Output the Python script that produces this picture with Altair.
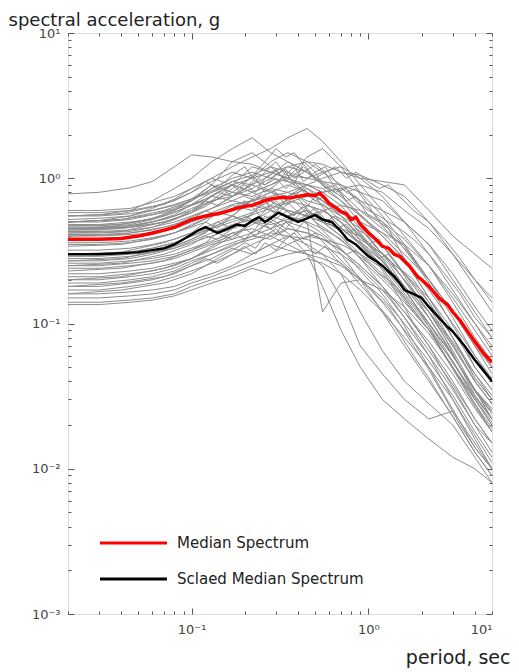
import altair as alt
import pandas as pd

# ---------------- data ----------------
periods = [0.02, 0.03, 0.045, 0.06, 0.08, 0.1, 0.13, 0.17, 0.22, 0.28, 0.35,
           0.45, 0.55, 0.7, 0.9, 1.2, 1.6, 2.2, 3.0, 4.0, 5.0]

g01 = [0.78, 0.80, 0.86, 0.95, 1.2, 1.45, 1.4, 1.3, 1.25, 1.1, 1.0, 0.9, 0.85, 0.7, 0.55, 0.42, 0.3, 0.2, 0.12, 0.07, 0.05]
g02 = [0.60, 0.60, 0.62, 0.68, 0.75, 0.85, 1.0, 1.2, 1.4, 1.6, 1.9, 2.2, 1.8, 1.3, 0.9, 0.6, 0.4, 0.25, 0.14, 0.08, 0.055]
g03 = [0.55, 0.56, 0.60, 0.7, 0.85, 1.0, 1.3, 1.6, 1.9, 1.5, 1.3, 1.1, 0.9, 0.7, 0.5, 0.35, 0.22, 0.13, 0.07, 0.04, 0.028]
g04 = [0.52, 0.53, 0.55, 0.6, 0.66, 0.72, 0.8, 0.9, 1.0, 1.1, 1.2, 1.3, 1.25, 1.1, 1.0, 0.95, 0.9, 0.6, 0.4, 0.3, 0.24]
g05 = [0.50, 0.50, 0.52, 0.56, 0.62, 0.7, 0.85, 1.0, 1.1, 1.0, 1.2, 1.1, 0.95, 0.8, 0.6, 0.45, 0.33, 0.2, 0.12, 0.075, 0.05]
g06 = [0.48, 0.48, 0.50, 0.52, 0.58, 0.65, 0.75, 0.9, 0.8, 0.9, 1.0, 1.4, 1.6, 1.2, 0.8, 0.55, 0.35, 0.2, 0.11, 0.06, 0.04]
g07 = [0.47, 0.47, 0.49, 0.53, 0.6, 0.7, 0.9, 0.8, 0.75, 0.85, 0.8, 0.7, 0.65, 0.55, 0.45, 0.3, 0.2, 0.12, 0.065, 0.035, 0.022]
g08 = [0.46, 0.46, 0.47, 0.5, 0.55, 0.62, 0.7, 0.75, 0.85, 1.0, 0.95, 0.9, 0.8, 0.85, 0.7, 0.6, 0.5, 0.35, 0.22, 0.13, 0.09]
g09 = [0.45, 0.45, 0.46, 0.48, 0.52, 0.58, 0.7, 0.9, 1.2, 1.1, 1.0, 0.85, 0.75, 0.6, 0.42, 0.28, 0.17, 0.1, 0.055, 0.03, 0.02]
g10 = [0.44, 0.44, 0.46, 0.5, 0.56, 0.66, 0.8, 0.95, 0.9, 1.05, 1.3, 1.1, 0.9, 0.75, 0.55, 0.4, 0.28, 0.17, 0.1, 0.06, 0.042]
g11 = [0.43, 0.43, 0.44, 0.46, 0.5, 0.55, 0.62, 0.7, 0.8, 0.9, 1.05, 1.0, 0.95, 0.9, 0.8, 0.7, 0.5, 0.35, 0.2, 0.12, 0.08]
g12 = [0.42, 0.42, 0.43, 0.46, 0.52, 0.6, 0.75, 0.7, 0.65, 0.6, 0.55, 0.5, 0.45, 0.38, 0.28, 0.18, 0.11, 0.06, 0.03, 0.016, 0.01]
g13 = [0.41, 0.41, 0.42, 0.44, 0.48, 0.54, 0.62, 0.75, 0.9, 0.8, 0.7, 0.65, 0.6, 0.5, 0.38, 0.3, 0.22, 0.15, 0.09, 0.05, 0.035]
g14 = [0.40, 0.40, 0.41, 0.42, 0.45, 0.5, 0.58, 0.66, 0.7, 0.8, 0.9, 0.8, 0.7, 0.6, 0.5, 0.42, 0.35, 0.25, 0.16, 0.1, 0.07]
g15 = [0.38, 0.38, 0.39, 0.41, 0.45, 0.5, 0.56, 0.6, 0.7, 0.6, 0.55, 0.6, 0.5, 0.4, 0.3, 0.22, 0.15, 0.09, 0.05, 0.028, 0.018]
g16 = [0.36, 0.36, 0.37, 0.39, 0.42, 0.47, 0.55, 0.65, 0.6, 0.7, 0.75, 0.85, 0.7, 0.55, 0.4, 0.27, 0.18, 0.11, 0.06, 0.035, 0.025]
g17 = [0.32, 0.32, 0.33, 0.35, 0.38, 0.42, 0.48, 0.55, 0.5, 0.45, 0.55, 0.6, 0.5, 0.45, 0.35, 0.25, 0.17, 0.1, 0.06, 0.035, 0.022]
g18 = [0.30, 0.30, 0.31, 0.33, 0.36, 0.40, 0.46, 0.52, 0.58, 0.65, 0.6, 0.55, 0.5, 0.4, 0.28, 0.2, 0.14, 0.09, 0.055, 0.032, 0.022]
g19 = [0.29, 0.29, 0.30, 0.31, 0.33, 0.36, 0.4, 0.45, 0.5, 0.48, 0.52, 0.5, 0.12, 0.19, 0.2, 0.17, 0.13, 0.085, 0.05, 0.03, 0.02]
g20 = [0.28, 0.28, 0.29, 0.31, 0.34, 0.38, 0.45, 0.55, 0.7, 0.8, 0.75, 0.9, 0.8, 0.65, 0.45, 0.3, 0.2, 0.12, 0.07, 0.04, 0.028]
g21 = [0.26, 0.26, 0.27, 0.28, 0.3, 0.33, 0.37, 0.42, 0.45, 0.4, 0.35, 0.3, 0.25, 0.15, 0.07, 0.045, 0.03, 0.022, 0.025, 0.015, 0.01]
g22 = [0.25, 0.25, 0.26, 0.27, 0.29, 0.32, 0.36, 0.4, 0.48, 0.55, 0.5, 0.45, 0.4, 0.3, 0.2, 0.12, 0.07, 0.04, 0.023, 0.013, 0.009]
g23 = [0.24, 0.24, 0.25, 0.26, 0.28, 0.31, 0.35, 0.38, 0.42, 0.5, 0.6, 0.55, 0.5, 0.45, 0.4, 0.3, 0.22, 0.14, 0.08, 0.045, 0.03]
g24 = [0.22, 0.22, 0.23, 0.24, 0.26, 0.28, 0.32, 0.36, 0.4, 0.38, 0.45, 0.42, 0.38, 0.32, 0.25, 0.18, 0.12, 0.07, 0.04, 0.022, 0.015]
g25 = [0.21, 0.21, 0.22, 0.23, 0.25, 0.28, 0.33, 0.4, 0.5, 0.6, 0.55, 0.65, 0.6, 0.5, 0.35, 0.24, 0.15, 0.09, 0.05, 0.028, 0.019]
g26 = [0.20, 0.20, 0.21, 0.22, 0.24, 0.27, 0.30, 0.35, 0.38, 0.42, 0.4, 0.35, 0.3, 0.22, 0.12, 0.065, 0.04, 0.028, 0.02, 0.012, 0.008]
g27 = [0.19, 0.19, 0.20, 0.21, 0.23, 0.26, 0.3, 0.34, 0.4, 0.45, 0.5, 0.55, 0.6, 0.65, 0.6, 0.5, 0.38, 0.25, 0.15, 0.09, 0.06]
g28 = [0.18, 0.18, 0.19, 0.20, 0.22, 0.25, 0.28, 0.33, 0.3, 0.35, 0.4, 0.38, 0.34, 0.3, 0.24, 0.17, 0.11, 0.065, 0.038, 0.022, 0.015]
g29 = [0.17, 0.17, 0.18, 0.19, 0.21, 0.23, 0.26, 0.3, 0.35, 0.4, 0.45, 0.42, 0.38, 0.35, 0.3, 0.24, 0.18, 0.12, 0.075, 0.045, 0.032]
g30 = [0.16, 0.16, 0.165, 0.17, 0.18, 0.2, 0.22, 0.25, 0.3, 0.35, 0.32, 0.3, 0.28, 0.25, 0.2, 0.15, 0.1, 0.06, 0.035, 0.02, 0.013]
g31 = [0.15, 0.15, 0.155, 0.16, 0.17, 0.19, 0.21, 0.24, 0.27, 0.3, 0.35, 0.4, 0.38, 0.32, 0.25, 0.18, 0.12, 0.075, 0.045, 0.026, 0.018]
g32 = [0.14, 0.14, 0.145, 0.15, 0.16, 0.18, 0.2, 0.22, 0.25, 0.28, 0.3, 0.32, 0.3, 0.26, 0.2, 0.14, 0.09, 0.055, 0.032, 0.018, 0.012]
g33 = [0.135, 0.135, 0.14, 0.145, 0.155, 0.17, 0.19, 0.21, 0.24, 0.22, 0.25, 0.28, 0.26, 0.22, 0.17, 0.12, 0.08, 0.05, 0.03, 0.017, 0.011]
g34 = [0.58, 0.58, 0.6, 0.64, 0.7, 0.8, 0.95, 1.1, 1.0, 1.3, 1.5, 1.3, 1.1, 0.9, 0.7, 0.5, 0.34, 0.2, 0.12, 0.07, 0.045]
g35 = [0.55, 0.55, 0.57, 0.6, 0.65, 0.72, 0.82, 0.95, 1.05, 1.2, 1.1, 1.0, 1.1, 1.2, 1.0, 0.75, 0.5, 0.3, 0.17, 0.1, 0.065]
g36 = [0.50, 0.51, 0.55, 0.62, 0.72, 0.85, 1.0, 0.9, 0.8, 0.7, 0.6, 0.55, 0.5, 0.45, 0.36, 0.25, 0.16, 0.1, 0.06, 0.035, 0.024]
g37 = [0.35, 0.35, 0.36, 0.38, 0.42, 0.48, 0.55, 0.62, 0.7, 0.75, 0.8, 0.9, 1.0, 1.1, 1.05, 0.9, 0.75, 0.5, 0.3, 0.2, 0.14]
g38 = [0.30, 0.30, 0.31, 0.33, 0.36, 0.4, 0.45, 0.5, 0.56, 0.62, 0.68, 0.75, 0.8, 0.85, 0.9, 0.8, 0.6, 0.45, 0.3, 0.18, 0.12]
g39 = [0.27, 0.27, 0.28, 0.3, 0.33, 0.37, 0.42, 0.48, 0.52, 0.5, 0.42, 0.3, 0.18, 0.09, 0.05, 0.03, 0.022, 0.016, 0.012, 0.01, 0.008]
g40 = [0.45, 0.46, 0.48, 0.52, 0.6, 0.72, 0.9, 1.3, 1.5, 1.2, 0.95, 0.8, 0.7, 0.55, 0.4, 0.27, 0.17, 0.1, 0.06, 0.035, 0.025]

records = [g01, g02, g03, g04, g05, g06, g07, g08, g09, g10, g11, g12, g13, g14,
           g15, g16, g17, g18, g19, g20, g21, g22, g23, g24, g25, g26, g27, g28,
           g29, g30, g31, g32, g33, g34, g35, g36, g37, g38, g39, g40]

# second group of records, read on a denser period grid (more wiggles)
periods2 = [0.02, 0.04, 0.07, 0.1, 0.12, 0.14, 0.17, 0.2, 0.23, 0.26, 0.3, 0.34, 0.38,
            0.43, 0.5, 0.57, 0.65, 0.75, 0.85, 1.0, 1.15, 1.3, 1.5, 1.8, 2.2, 2.7, 3.3,
            4.0, 5.0]

h01 = [0.55, 0.57, 0.66, 0.8, 0.95, 0.85, 1.05, 1.2, 0.95, 1.1, 1.3, 1.05, 1.2, 0.95, 1.1, 0.85, 0.9, 0.7, 0.75, 0.55, 0.5, 0.42, 0.36, 0.27, 0.19, 0.12, 0.08, 0.05, 0.035]
h02 = [0.50, 0.52, 0.6, 0.7, 0.8, 0.9, 0.75, 0.85, 1.0, 0.8, 0.9, 1.1, 0.9, 1.3, 1.1, 1.2, 0.95, 0.8, 0.85, 0.65, 0.5, 0.45, 0.32, 0.22, 0.15, 0.1, 0.065, 0.042, 0.03]
h03 = [0.47, 0.48, 0.55, 0.65, 0.7, 0.8, 0.9, 0.75, 0.7, 0.85, 0.8, 0.65, 0.7, 0.6, 0.75, 0.6, 0.5, 0.42, 0.38, 0.3, 0.25, 0.2, 0.15, 0.1, 0.07, 0.045, 0.03, 0.02, 0.015]
h04 = [0.45, 0.46, 0.52, 0.6, 0.66, 0.72, 0.85, 0.95, 1.05, 0.9, 1.0, 0.85, 0.95, 0.8, 0.7, 0.75, 0.6, 0.55, 0.45, 0.4, 0.32, 0.28, 0.22, 0.16, 0.11, 0.075, 0.05, 0.035, 0.026]
h05 = [0.42, 0.43, 0.5, 0.58, 0.7, 0.65, 0.75, 0.9, 0.8, 1.0, 1.15, 0.95, 1.05, 1.2, 1.0, 0.9, 0.8, 0.85, 0.7, 0.6, 0.55, 0.5, 0.45, 0.38, 0.3, 0.22, 0.16, 0.11, 0.08]
h06 = [0.40, 0.41, 0.46, 0.52, 0.6, 0.55, 0.62, 0.7, 0.6, 0.75, 0.65, 0.7, 0.8, 0.65, 0.55, 0.6, 0.5, 0.42, 0.45, 0.35, 0.3, 0.26, 0.2, 0.14, 0.095, 0.06, 0.04, 0.027, 0.018]
h07 = [0.34, 0.35, 0.4, 0.46, 0.5, 0.58, 0.55, 0.65, 0.75, 0.7, 0.6, 0.7, 0.8, 0.7, 0.6, 0.5, 0.55, 0.45, 0.38, 0.33, 0.28, 0.3, 0.24, 0.17, 0.12, 0.08, 0.05, 0.032, 0.022]
h08 = [0.30, 0.31, 0.36, 0.42, 0.5, 0.45, 0.55, 0.5, 0.6, 0.7, 0.55, 0.65, 0.75, 0.85, 0.7, 0.65, 0.55, 0.5, 0.42, 0.35, 0.38, 0.3, 0.24, 0.2, 0.14, 0.09, 0.06, 0.04, 0.028]
h09 = [0.27, 0.28, 0.32, 0.38, 0.42, 0.5, 0.45, 0.55, 0.5, 0.6, 0.7, 0.6, 0.55, 0.65, 0.5, 0.42, 0.36, 0.3, 0.25, 0.2, 0.17, 0.14, 0.11, 0.075, 0.05, 0.032, 0.021, 0.014, 0.01]
h10 = [0.25, 0.26, 0.3, 0.35, 0.4, 0.38, 0.45, 0.52, 0.6, 0.5, 0.58, 0.7, 0.62, 0.55, 0.62, 0.52, 0.45, 0.48, 0.4, 0.32, 0.28, 0.24, 0.2, 0.15, 0.11, 0.075, 0.05, 0.034, 0.024]
h11 = [0.23, 0.24, 0.27, 0.32, 0.36, 0.42, 0.38, 0.45, 0.4, 0.48, 0.42, 0.5, 0.45, 0.38, 0.42, 0.35, 0.3, 0.25, 0.22, 0.18, 0.15, 0.13, 0.1, 0.07, 0.048, 0.031, 0.02, 0.014, 0.01]
h12 = [0.20, 0.21, 0.24, 0.28, 0.32, 0.36, 0.42, 0.38, 0.45, 0.55, 0.5, 0.45, 0.52, 0.6, 0.5, 0.45, 0.4, 0.35, 0.3, 0.26, 0.22, 0.2, 0.17, 0.13, 0.095, 0.065, 0.045, 0.031, 0.022]
h13 = [0.18, 0.19, 0.21, 0.25, 0.28, 0.26, 0.3, 0.34, 0.3, 0.36, 0.32, 0.38, 0.42, 0.36, 0.3, 0.34, 0.28, 0.24, 0.2, 0.16, 0.13, 0.11, 0.085, 0.06, 0.042, 0.028, 0.019, 0.013, 0.009]
h14 = [0.16, 0.17, 0.19, 0.22, 0.25, 0.28, 0.32, 0.36, 0.33, 0.4, 0.45, 0.38, 0.42, 0.5, 0.45, 0.4, 0.35, 0.3, 0.32, 0.26, 0.22, 0.19, 0.16, 0.12, 0.09, 0.06, 0.042, 0.03, 0.021]
h15 = [0.50, 0.52, 0.58, 0.66, 0.72, 0.8, 0.75, 0.85, 0.95, 0.9, 1.05, 1.15, 1.0, 1.1, 1.25, 1.1, 1.2, 1.0, 1.1, 0.95, 0.85, 0.9, 0.75, 0.6, 0.5, 0.38, 0.28, 0.2, 0.15]
h16 = [0.44, 0.45, 0.5, 0.58, 0.64, 0.72, 0.8, 0.92, 1.1, 1.3, 1.6, 1.4, 1.5, 1.25, 1.0, 1.1, 0.85, 0.7, 0.6, 0.5, 0.42, 0.36, 0.3, 0.22, 0.15, 0.1, 0.065, 0.042, 0.03]

records2 = [h01, h02, h03, h04, h05, h06, h07, h08, h09, h10, h11, h12, h13, h14, h15, h16]

median_periods = [0.02, 0.03, 0.04, 0.05, 0.06, 0.07, 0.08, 0.1, 0.12, 0.15, 0.18, 0.2,
                  0.22, 0.25, 0.28, 0.3, 0.33, 0.36, 0.4, 0.45, 0.5, 0.53, 0.56, 0.6,
                  0.65, 0.7, 0.75, 0.8, 0.85, 0.9, 1.0, 1.1, 1.2, 1.3, 1.4, 1.5, 1.7,
                  1.9, 2.0, 2.2, 2.5, 2.8, 3.0, 3.3, 3.6, 4.0, 4.5, 5.0]
median_values = [0.38, 0.38, 0.385, 0.40, 0.42, 0.44, 0.46, 0.52, 0.55, 0.58, 0.62, 0.64,
                 0.65, 0.69, 0.72, 0.73, 0.74, 0.73, 0.75, 0.77, 0.76, 0.79, 0.74, 0.67,
                 0.63, 0.59, 0.57, 0.52, 0.54, 0.48, 0.42, 0.38, 0.34, 0.33, 0.30, 0.29,
                 0.25, 0.21, 0.20, 0.18, 0.15, 0.135, 0.12, 0.105, 0.09, 0.075, 0.062, 0.054]

scaled_periods = [0.02, 0.03, 0.04, 0.05, 0.06, 0.07, 0.08, 0.1, 0.11, 0.12, 0.13, 0.14,
                  0.16, 0.18, 0.2, 0.22, 0.24, 0.26, 0.28, 0.31, 0.35, 0.4, 0.45, 0.5,
                  0.55, 0.62, 0.7, 0.76, 0.85, 1.0, 1.1, 1.2, 1.4, 1.5, 1.6, 1.8, 2.0,
                  2.2, 2.5, 2.8, 3.0, 3.5, 4.0, 4.5, 5.0]
scaled_values = [0.30, 0.30, 0.305, 0.31, 0.32, 0.33, 0.35, 0.41, 0.44, 0.46, 0.44, 0.42,
                 0.45, 0.48, 0.47, 0.51, 0.54, 0.50, 0.53, 0.58, 0.54, 0.50, 0.53, 0.56,
                 0.52, 0.50, 0.43, 0.38, 0.35, 0.29, 0.27, 0.25, 0.21, 0.19, 0.17, 0.16,
                 0.15, 0.13, 0.11, 0.095, 0.088, 0.07, 0.056, 0.047, 0.040]

series_names = ["Median Spectrum", "Sclaed Median Spectrum"]
series_colors = ["#ff0000", "#000000"]

for r in records:
    assert len(r) == len(periods)
for r in records2:
    assert len(r) == len(periods2)
assert len(median_periods) == len(median_values)
assert len(scaled_periods) == len(scaled_values)

# ---------------- tables ----------------
gray_rows = []
for i, rec in enumerate(records):
    for t, v in zip(periods, rec):
        gray_rows.append({"id": i, "period": t, "sa": v})
for j, rec in enumerate(records2):
    for t, v in zip(periods2, rec):
        gray_rows.append({"id": 100 + j, "period": t, "sa": v})
gray_df = pd.DataFrame(gray_rows)

med_rows = [{"series": series_names[0], "period": t, "sa": v}
            for t, v in zip(median_periods, median_values)]
med_rows += [{"series": series_names[1], "period": t, "sa": v}
             for t, v in zip(scaled_periods, scaled_values)]
med_df = pd.DataFrame(med_rows)
legend_df = pd.DataFrame({"series": series_names})

# ---------------- scales / axes ----------------
W, H = 424, 581
FONT = "DejaVu Sans"
xscale = alt.Scale(type="log", domain=[0.02, 5], nice=False)
yscale = alt.Scale(type="log", domain=[0.001, 10], nice=False)
color_scale = alt.Scale(domain=series_names, range=series_colors)

minor_x = [k * 0.01 for k in range(2, 10)] + [k * 0.1 for k in range(1, 10)] + [1, 2, 3, 4, 5]
minor_y = [k * 10.0 ** e for e in range(-3, 1) for k in range(1, 10)] + [10]

major_test = "abs(log(datum.value)/LN10 - round(log(datum.value)/LN10)) < 0.0001"
tick_size = {"condition": {"test": major_test, "value": 6}, "value": 3}

sup_y = ("datum.value > 5 ? '10\u00b9' : datum.value > 0.5 ? '10\u2070' : "
         "datum.value > 0.05 ? '10\u207b\u00b9' : datum.value > 0.005 ? '10\u207b\u00b2' : '10\u207b\u00b3'")
sup_x = ("datum.value > 2 ? '10\u00b9' : datum.value > 0.5 ? '10\u2070' : '10\u207b\u00b9'")


def tick_axis(orient, values, offset):
    return alt.Axis(orient=orient, values=values, offset=offset, labels=False,
                    domain=False, grid=False, title=None, ticks=True,
                    tickColor="#555555", tickWidth=1, tickSize=tick_size)


gray = alt.Chart(gray_df).mark_line(color="#8c8c8c", strokeWidth=1, clip=True).encode(
    x=alt.X("period:Q", scale=xscale,
            axis=alt.Axis(orient="bottom", values=[0.1, 1, 5], labelExpr=sup_x,
                          ticks=False, domain=False, grid=False, labelPadding=9,
                          labelFontSize=13, labelColor="#444444", labelFont=FONT,
                          title="period, sec", titleFont=FONT, titleFontSize=19,
                          titleFontWeight="normal", titleColor="#222222",
                          titleX=442, titleY=49, titleAlign="right",
                          titleBaseline="alphabetic")),
    y=alt.Y("sa:Q", scale=yscale,
            axis=alt.Axis(orient="left", values=[0.001, 0.01, 0.1, 1, 10], labelExpr=sup_y,
                          ticks=False, domain=False, grid=False, labelPadding=8,
                          labelFontSize=13, labelColor="#444444", labelFont=FONT,
                          title="spectral acceleration, g", titleFont=FONT,
                          titleFontSize=18, titleFontWeight="normal",
                          titleColor="#222222", titleAngle=0, titleX=-60, titleY=-8,
                          titleAlign="left", titleBaseline="alphabetic")),
    detail="id:N",
)

medians = alt.Chart(med_df).mark_line(clip=True).encode(
    x=alt.X("period:Q", scale=xscale, axis=tick_axis("top", minor_x, -H)),
    y=alt.Y("sa:Q", scale=yscale, axis=tick_axis("right", minor_y, -W)),
    color=alt.Color("series:N", scale=color_scale, legend=None),
    strokeWidth=alt.StrokeWidth("series:N",
                                scale=alt.Scale(domain=series_names, range=[3.4, 2.5]),
                                legend=None),
)

frame_ticks = alt.Chart(med_df).mark_line(opacity=0).encode(
    x=alt.X("period:Q", scale=xscale, axis=tick_axis("bottom", minor_x, -H)),
    y=alt.Y("sa:Q", scale=yscale, axis=tick_axis("left", minor_y, -W)),
    detail="series:N",
)

# legend drawn inside the plot (rows placed by a point scale)
leg_y = alt.Y("series:N", axis=None,
              scale=alt.Scale(type="point", domain=series_names, range=[510, 546], padding=0))
leg_rules = alt.Chart(legend_df).mark_rule(strokeWidth=3).encode(
    x=alt.value(32), x2=alt.value(99), y=leg_y,
    color=alt.Color("series:N", scale=color_scale, legend=None),
)
leg_text = alt.Chart(legend_df).mark_text(
    align="left", baseline="middle", fontSize=15, font=FONT, color="#222222"
).encode(x=alt.value(109), y=leg_y, text="series:N")

chart = alt.layer(gray, medians, frame_ticks, leg_rules, leg_text).resolve_axis(
    x="independent", y="independent"
).resolve_scale(y="independent").properties(
    width=W, height=H, autosize="none",
    padding={"left": 60, "top": 25, "right": 19, "bottom": 58},
).configure_view(
    stroke="#555555", strokeWidth=1.5
).configure(background="white")

chart.save("out.html", embed_options={"renderer": "svg", "actions": False})
